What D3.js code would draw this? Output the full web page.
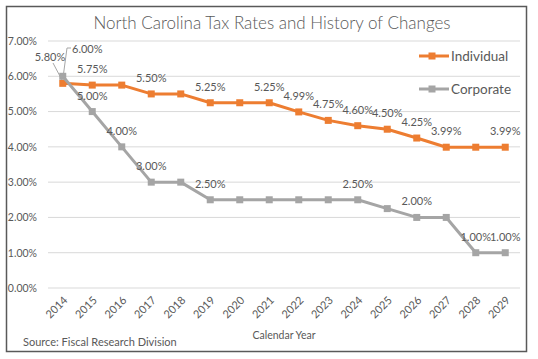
<!DOCTYPE html>
<html><head><meta charset="utf-8">
<script src="https://cdn.jsdelivr.net/npm/d3@7"></script>
<style>body{margin:0;background:#fff}svg{display:block}text{font-family:Lato,"Open Sans",sans-serif;fill:#595959}</style>
</head><body>
<script>
const years = ["2014","2015","2016","2017","2018","2019","2020","2021","2022","2023","2024","2025","2026","2027","2028","2029"];
const individual = [5.80,5.75,5.75,5.50,5.50,5.25,5.25,5.25,4.99,4.75,4.60,4.50,4.25,3.99,3.99,3.99];
const corporate  = [6.00,5.00,4.00,3.00,3.00,2.50,2.50,2.50,2.50,2.50,2.50,2.25,2.00,2.00,1.00,1.00];
const individualLabelShown = [1,1,0,1,0,1,0,1,1,1,1,1,1,1,0,1];
const corporateLabelShown  = [1,1,1,1,0,1,0,0,0,0,1,0,1,0,1,1];
const yTicks = [0,1,2,3,4,5,6,7];
const seriesNames = ["Individual","Corporate"];
const colors = ["#ED7D31","#A5A5A5"];

const W=538,H=359;
const svg=d3.select("body").append("svg").attr("width",W).attr("height",H);
svg.append("rect").attr("x",6.5).attr("y",6.5).attr("width",520).attr("height",345)
  .attr("fill","#fff").attr("stroke","#595959").attr("stroke-width",1.5);

const x=d3.scalePoint().domain(years).range([48,520]).padding(0.5);
const y=d3.scaleLinear().domain([0,7]).range([288,41]);

// gridlines
svg.append("g").selectAll("line").data(yTicks).join("line")
  .attr("x1",48).attr("x2",520).attr("y1",d=>y(d)).attr("y2",d=>y(d))
  .attr("stroke","#D9D9D9").attr("stroke-width",1);

// y axis labels
const yAxis=d3.axisLeft(y).tickValues(yTicks).tickFormat(d=>d.toFixed(2)+"%").tickSize(0).tickPadding(0);
const gy=svg.append("g").attr("transform","translate(37,0)").call(yAxis);
gy.select(".domain").remove();
gy.selectAll("text").attr("font-size",10.5).attr("fill","#595959").style("font-family","Lato");

// x axis labels
const xAxis=d3.axisBottom(x).tickSize(0).tickPadding(0);
const gx=svg.append("g").attr("transform","translate(0,288)").call(xAxis);
gx.select(".domain").remove();
gx.selectAll("text").attr("font-size",11).attr("fill","#595959").style("font-family","Lato")
  .attr("text-anchor","end").attr("dy",0).attr("y",0)
  .attr("transform","translate(5,13) rotate(-45)");

// title
svg.append("text").attr("x",272).attr("y",29).attr("text-anchor","middle").attr("font-size",17).attr("font-weight",300).text("North Carolina Tax Rates and History of Changes");
svg.append("text").attr("x",284).attr("y",339).attr("text-anchor","middle").attr("font-size",10.5).text("Calendar Year");
svg.append("text").attr("x",23).attr("y",346).attr("font-size",11).text("Source: Fiscal Research Division");

const line=d3.line().x((d,i)=>x(years[i])).y(d=>y(d));
const series=[individual,corporate];
const shown=[individualLabelShown,corporateLabelShown];

// leader lines
svg.append("path").attr("d",d3.line()([[71,48],[67,48],[63.5,74]])).attr("fill","none").attr("stroke","#A6A6A6").attr("stroke-width",1);
svg.append("path").attr("d",d3.line()([[53,63],[62,80]])).attr("fill","none").attr("stroke","#A6A6A6").attr("stroke-width",1);

series.forEach((s,k)=>{
  const g=svg.append("g");
  g.append("path").datum(s).attr("d",line).attr("fill","none").attr("stroke",colors[k]).attr("stroke-width",3).attr("stroke-linejoin","round");
  g.selectAll("rect").data(s).join("rect")
    .attr("x",(d,i)=>x(years[i])-3.5).attr("y",d=>y(d)-3.5).attr("width",7).attr("height",7).attr("fill",colors[k]);
});
// labels
series.forEach((s,k)=>{
  svg.append("g").selectAll("text").data(s.map((v,i)=>({v,i})).filter(d=>shown[k][d.i])).join("text")
    .attr("font-size",11).attr("text-anchor",d=>d.i===0?(k===0?"middle":"start"):"middle")
    .attr("x",d=>d.i===0?(k===0?50:72):x(years[d.i]))
    .attr("y",d=>d.i===0?(k===0?61:53):y(d.v)-12)
    .text(d=>d.v.toFixed(2)+"%");
});

// legend
seriesNames.forEach((n,k)=>{
  const ly=56+k*33;
  svg.append("line").attr("x1",419).attr("x2",449).attr("y1",ly).attr("y2",ly).attr("stroke",colors[k]).attr("stroke-width",3);
  svg.append("rect").attr("x",432-3.5).attr("y",ly-3.5).attr("width",7).attr("height",7).attr("fill",colors[k]);
  svg.append("text").attr("x",451).attr("y",ly+5).attr("font-size",13.5).text(n);
});
</script>
</body></html>
